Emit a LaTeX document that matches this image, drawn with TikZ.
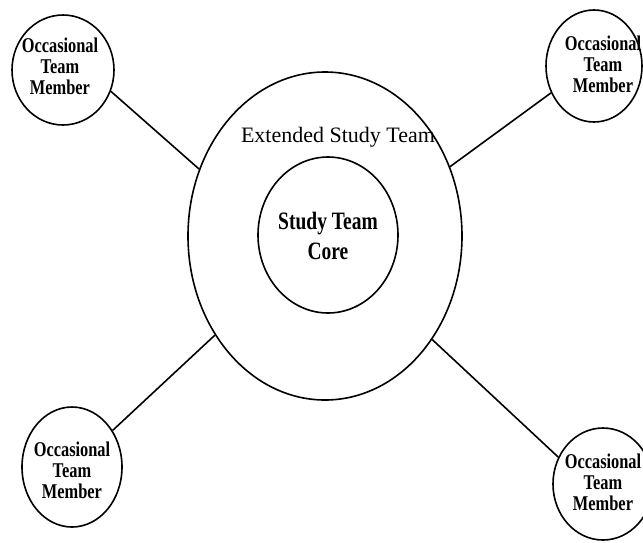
\documentclass[tikz,border=0pt]{standalone}
\usepackage{fontspec}
\setmainfont{Liberation Serif}
\newfontfamily\condserif[FakeStretch=0.78]{Liberation Serif}
\usetikzlibrary{shapes.geometric}
\begin{document}
\begin{tikzpicture}[x=1pt,y=-1pt,
  ring/.style={draw, ellipse, line width=1.6pt, inner sep=0pt},
  occtext/.style={align=center, inner sep=0pt, font={\condserif\bfseries\fontsize{21}{21}\selectfont}},
  coretext/.style={align=center, inner sep=0pt, font={\condserif\bfseries\fontsize{25}{30}\selectfont}},
  exttext/.style={inner sep=0pt, font={\fontsize{22}{22}\selectfont}},
  link/.style={line width=1.6pt}]
\useasboundingbox[fill=white] (0,0) rectangle (643,542);
\clip (0,0) rectangle (643,542);
% central rings
\node[ring, minimum width=274, minimum height=328] (ext) at (325,236) {};
\node[ring, minimum width=140, minimum height=156] (core) at (328,235) {};
\node[exttext] (extlbl) at (338,137) {Extended Study Team};
\node[coretext] (corelbl) at (328,236) {Study Team\\Core};
% occasional members
\node[ring, minimum width=102, minimum height=110] (tl) at (63,70) {};
\node[ring, minimum width=96, minimum height=112] (tr) at (594,66) {};
\node[ring, minimum width=100, minimum height=120] (bl) at (72,467) {};
\node[ring, minimum width=100, minimum height=112] (br) at (603,484) {};
\node[occtext] (tltxt) at (60,66) {Occasional\\Team\\Member};
\node[occtext] (trtxt) at (603,64) {Occasional\\Team\\Member};
\node[occtext] (bltxt) at (72,470) {Occasional\\Team\\Member};
\node[occtext] (brtxt) at (603,482) {Occasional\\Team\\Member};
% connectors
\draw[link] (tl.-24) -- (ext.152);
\draw[link] (tr.212) -- (ext.29);
\draw[link] (bl.42) -- (ext.222);
\draw[link] (br.149) -- (ext.316);
\end{tikzpicture}
\end{document}
